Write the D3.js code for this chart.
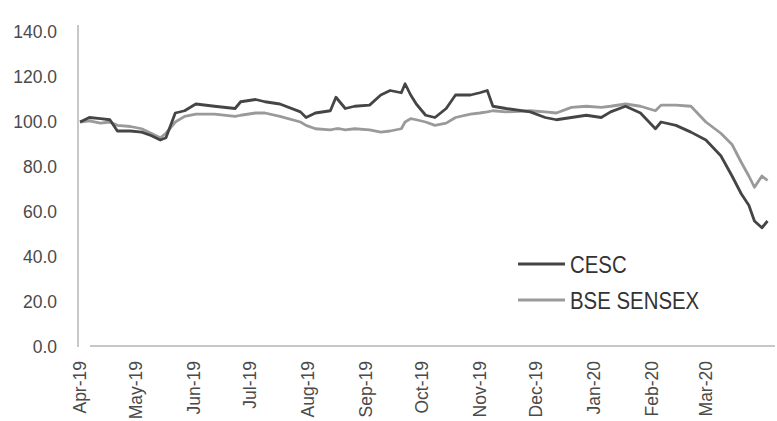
<!DOCTYPE html>
<html>
<head>
<meta charset="utf-8">
<script src="https://cdn.jsdelivr.net/npm/d3@7"></script>
<style>
  body { margin: 0; background: #fff; }
</style>
</head>
<body>
<div id="container"></div>
<script>
let dates = ['2019-04-01','2019-04-06','2019-04-12','2019-04-17','2019-04-21','2019-04-28','2019-05-04','2019-05-09',
  '2019-05-14','2019-05-17','2019-05-22','2019-05-27','2019-06-02','2019-06-12','2019-06-23','2019-06-26',
  '2019-07-04','2019-07-09','2019-07-17','2019-07-28','2019-07-31','2019-08-05','2019-08-13','2019-08-16',
  '2019-08-18','2019-08-21','2019-08-26','2019-09-03','2019-09-09','2019-09-14','2019-09-20','2019-09-22',
  '2019-09-25','2019-09-28','2019-10-03','2019-10-08','2019-10-14','2019-10-19','2019-10-27','2019-11-01',
  '2019-11-05','2019-11-08','2019-11-15','2019-11-28','2019-12-06','2019-12-12','2019-12-20','2019-12-28',
  '2020-01-05','2020-01-10','2020-01-18','2020-01-26','2020-02-03','2020-02-06','2020-02-14','2020-02-22',
  '2020-03-01','2020-03-09','2020-03-15','2020-03-20','2020-03-24','2020-03-27','2020-03-31','2020-04-03']

let cesc = [100,102,101.5,101,96,96,95.5,94,
  92,93,104,105,108,107,106,109,
  110,109,108,104.5,102,104,105,111,
  109,106,107,107.5,112,114,113,117,
  112,108,103,102,106,112,112,113,
  114,107,106,104.5,102,101,102,103,
  102,104.5,107,104,97,100,98.5,95.5,
  92,85,76,68,63,56,53,56]

let sensex = [100,100.5,99.5,100,98.5,98,97,95,
  93,95,100,102.5,103.5,103.5,102.5,103,
  104,104,102.5,100,98.5,97,96.5,97,
  97,96.5,97,96.5,95.5,96,97,100,
  101.5,101,100,98.5,99.5,102,103.5,104,
  104.5,105,104.5,105,104.5,104,106.5,107,
  106.5,107,108,107,105,107.5,107.5,107,
  100,95,90,82,76,71,76,74]

let seriesNames = ['CESC', 'BSE SENSEX']
let seriesColors = ['#454545', '#9a9a9a']
let yTicks = [0, 20, 40, 60, 80, 100, 120, 140]
let monthTicks = ['2019-04-01','2019-05-01','2019-06-01','2019-07-01','2019-08-01','2019-09-01',
  '2019-10-01','2019-11-01','2019-12-01','2020-01-01','2020-02-01','2020-03-01']

let svgWidth = 777;
let svgHeight = 421;
let parse = d3.timeParse('%Y-%m-%d');
let fmt = d3.timeFormat('%b-%y');

let xScale = d3.scaleTime()
               .domain([parse('2019-04-01'), parse('2020-04-07')])
               .range([80, 775])
let yScale = d3.scaleLinear()
               .domain([0, 140])
               .range([347, 32])

let svg = d3.select('#container')
            .append('svg')
            .attr('width', svgWidth)
            .attr('height', svgHeight)
            .style('font-family', '"Liberation Sans", Arial, sans-serif');

// axes lines
svg.append('line')
   .attr('x1', 78).attr('x2', 78)
   .attr('y1', 25).attr('y2', 347)
   .attr('stroke', '#c8c8c8').attr('stroke-width', 2);
svg.append('line')
   .attr('x1', 90).attr('x2', 775)
   .attr('y1', 346).attr('y2', 346)
   .attr('stroke', '#b5b5b5').attr('stroke-width', 1.5);

// y tick labels
svg.selectAll('.ylab')
   .data(yTicks)
   .enter()
   .append('text')
   .attr('class', 'ylab')
   .attr('x', 57)
   .attr('y', d => yScale(d))
   .attr('dy', '0.36em')
   .attr('text-anchor', 'end')
   .attr('font-size', 17.5)
   .attr('fill', '#4a4a4a')
   .text(d => d.toFixed(1));

// x tick labels
svg.selectAll('.xlab')
   .data(monthTicks)
   .enter()
   .append('text')
   .attr('class', 'xlab')
   .attr('transform', d => 'translate(' + xScale(parse(d)) + ',361) rotate(-90)')
   .attr('dy', '0.36em')
   .attr('text-anchor', 'end')
   .attr('font-size', 17.5)
   .attr('fill', '#4a4a4a')
   .text(d => fmt(parse(d)));

let series = [cesc, sensex];
let line = d3.line()
             .x((d, i) => xScale(parse(dates[i])))
             .y(d => yScale(d));

// SENSEX first so CESC sits on top
[1, 0].forEach(k => {
  svg.append('path')
     .datum(series[k])
     .attr('fill', 'none')
     .attr('stroke', seriesColors[k])
     .attr('stroke-width', 2.8)
     .attr('stroke-linejoin', 'round')
     .attr('d', line);
});

// legend
let legend = svg.selectAll('.leg')
                .data(seriesNames)
                .enter()
                .append('g')
                .attr('class', 'leg')
                .attr('transform', (d, i) => 'translate(518,' + (264 + i * 36) + ')');
legend.append('line')
      .attr('x1', 0).attr('x2', 47)
      .attr('stroke', (d, i) => seriesColors[i])
      .attr('stroke-width', 3);
legend.append('text')
      .attr('transform', 'translate(52,0) scale(0.85,1)')
      .attr('dy', '0.36em')
      .attr('font-size', 24)
      .attr('fill', '#333')
      .text(d => d);
</script>
</body>
</html>
